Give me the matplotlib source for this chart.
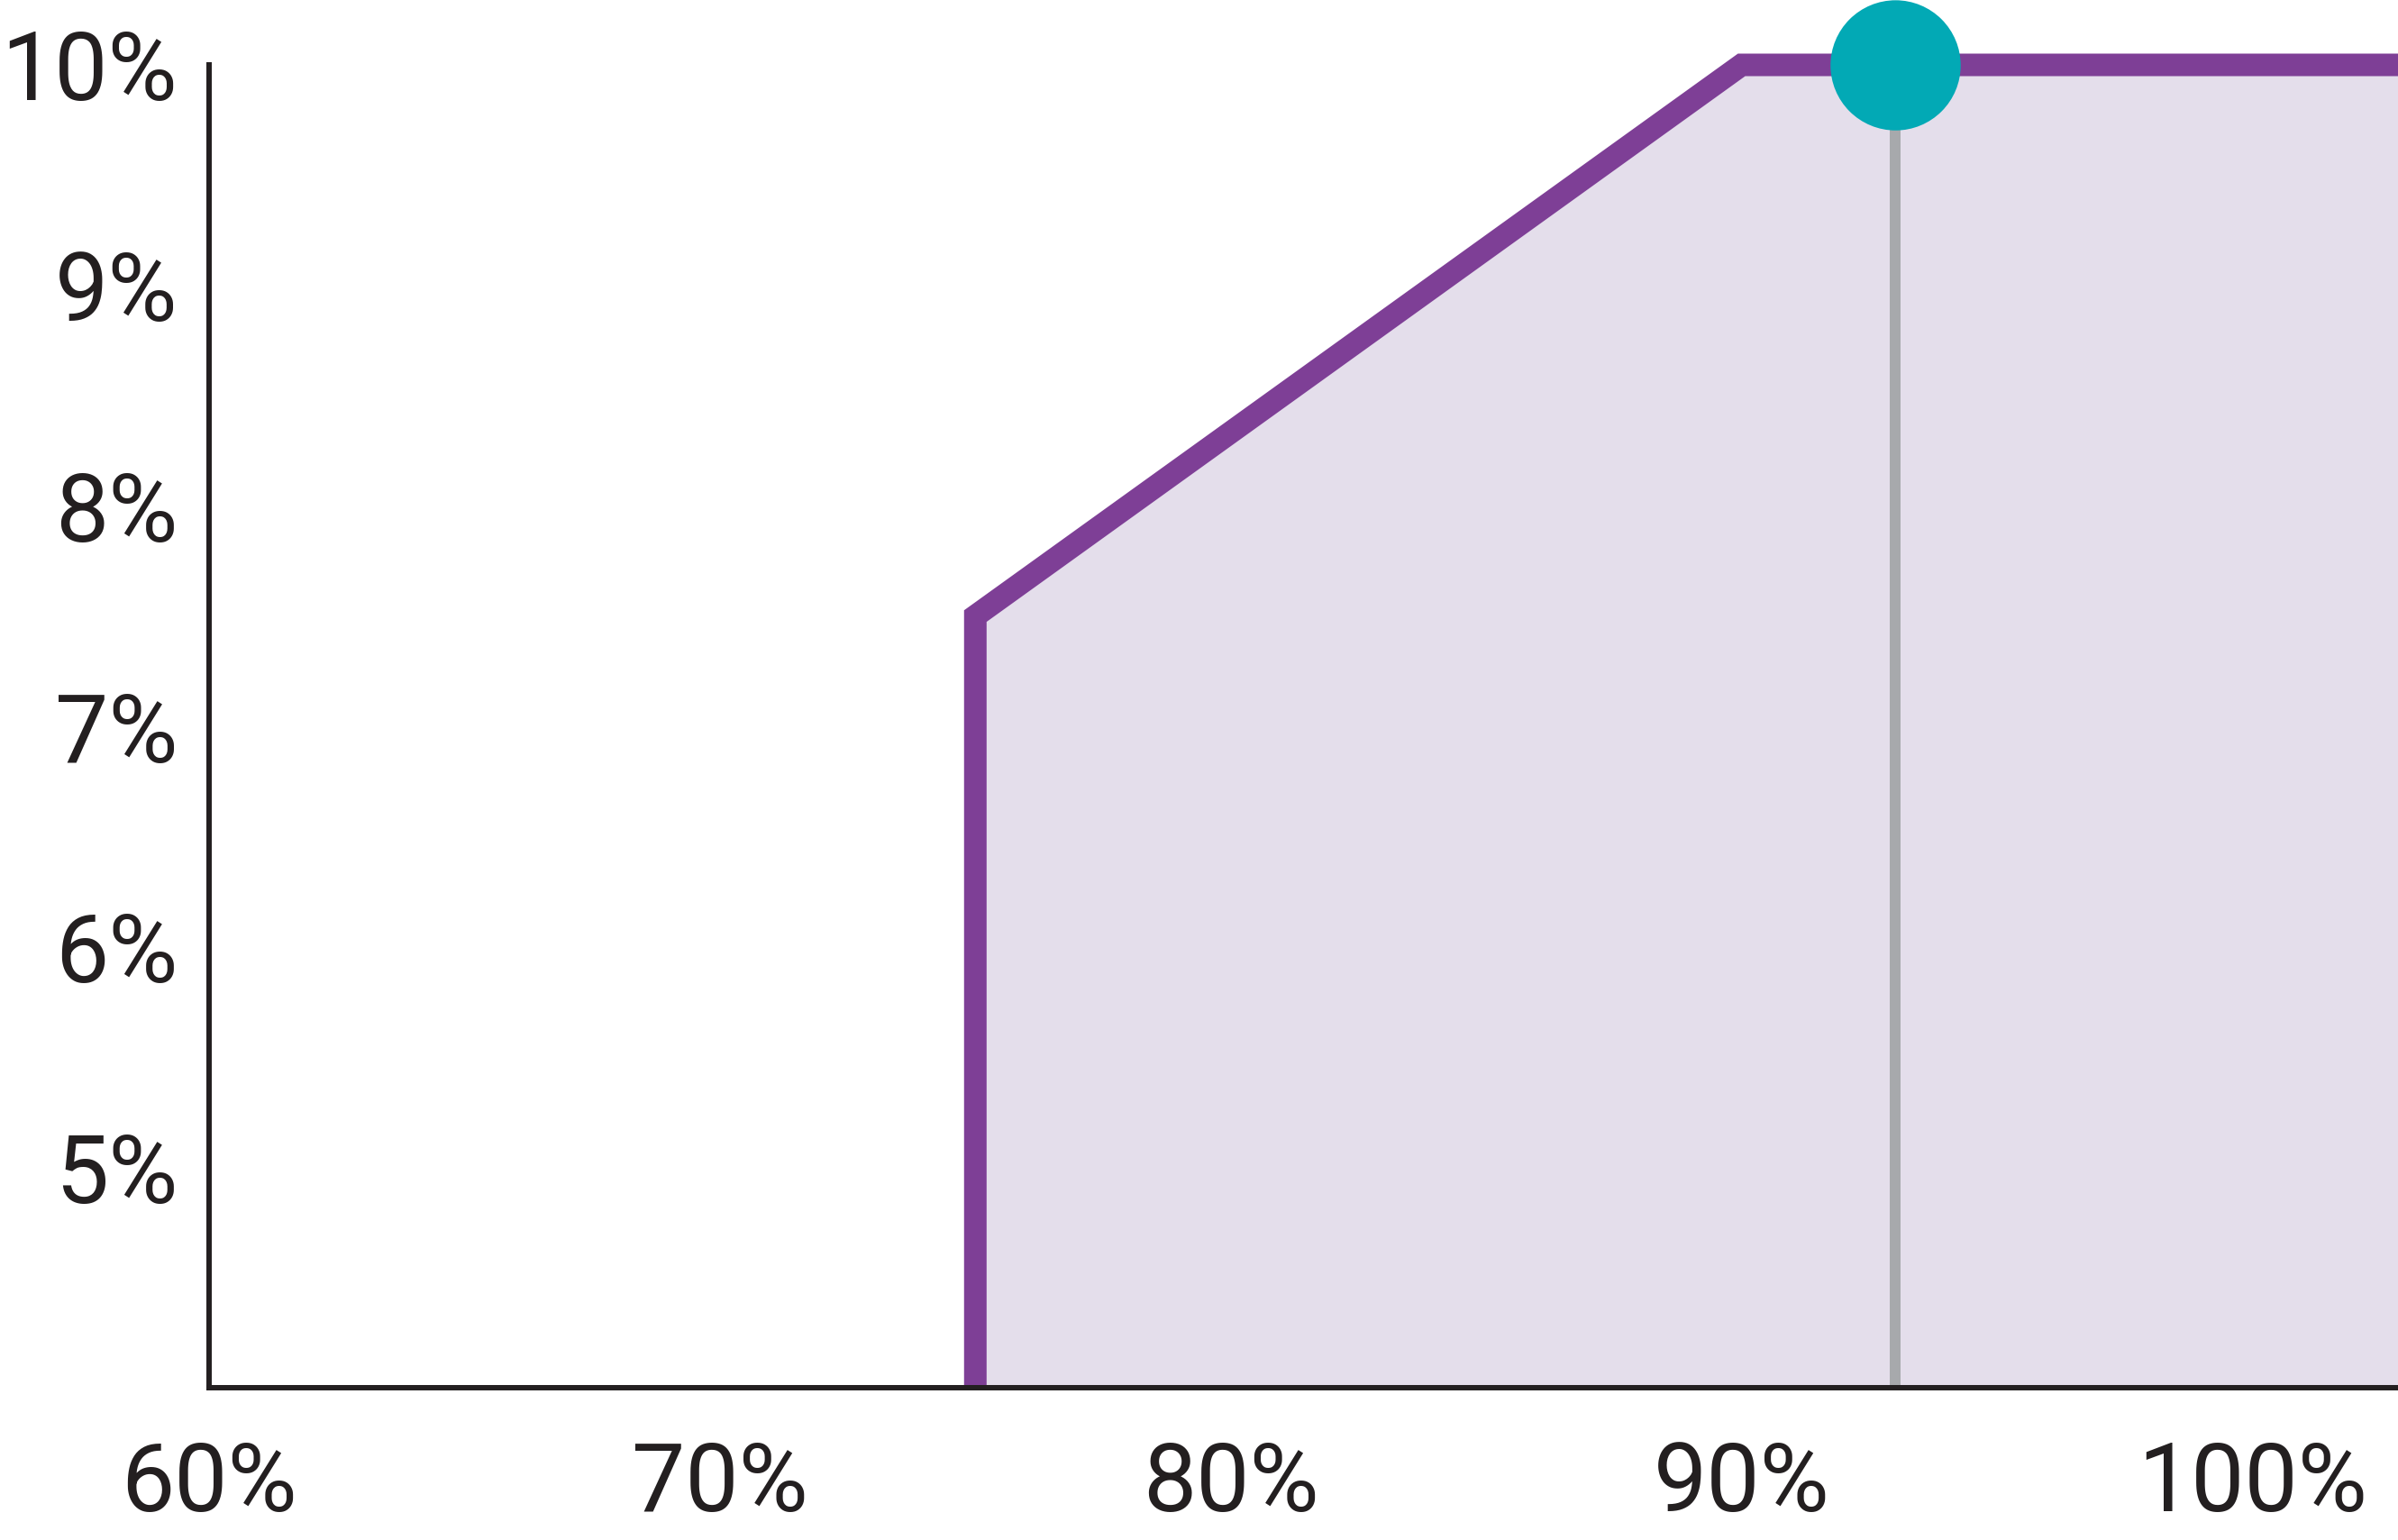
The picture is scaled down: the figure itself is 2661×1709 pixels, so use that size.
import matplotlib
matplotlib.use("Agg")
from matplotlib import pyplot as plt

# 数据
x_pts = [75, 75, 90, 110]
y_pts = [4, 7.5, 10, 10]
marker_x = 93
marker_y = 10
x_ticks = [60, 70, 80, 90, 100]
y_ticks = [5, 6, 7, 8, 9, 10]

DARK = "#231F20"
PURPLE = "#7E3F96"
FILL = "#E4DEEB"
GRAY = "#A7A9AC"
TEAL = "#02A9B5"

plt.rcParams['font.family'] = ['Roboto', 'DejaVu Sans']

fig = plt.figure(figsize=(26.61, 17.09), dpi=100)
ax = fig.add_axes([232 / 2661, 169 / 1709, 1 - 232 / 2661, (1540 - 72) / 1709])

ax.fill_between(x_pts, y_pts, 4, color=FILL, lw=0, zorder=1)
ax.plot([marker_x, marker_x], [4, marker_y], color=GRAY, lw=8.6, solid_capstyle='butt', zorder=2)
ax.plot(x_pts, y_pts, color=PURPLE, lw=18, solid_joinstyle='miter', solid_capstyle='butt',
        clip_on=False, zorder=3)
ax.plot([marker_x], [marker_y], 'o', color=TEAL, ms=104, mew=0, clip_on=False, zorder=5)

ax.set_xlim(60, 102.85)
ax.set_ylim(4, 10)
ax.set_xticks(x_ticks)
ax.set_xticklabels(["%d%%" % v for v in x_ticks])
ax.set_yticks(y_ticks)
ax.set_yticklabels(["%d%%" % v for v in y_ticks])
ax.tick_params(axis='both', length=0, labelsize=76, colors=DARK)
ax.tick_params(axis='x', pad=42)
ax.tick_params(axis='y', pad=25)

for s in ['top', 'right']:
    ax.spines[s].set_visible(False)
for s in ['left', 'bottom']:
    ax.spines[s].set_color(DARK)
    ax.spines[s].set_linewidth(4.3)
    ax.spines[s].set_zorder(4)

fig.savefig("out.png", dpi=100)
